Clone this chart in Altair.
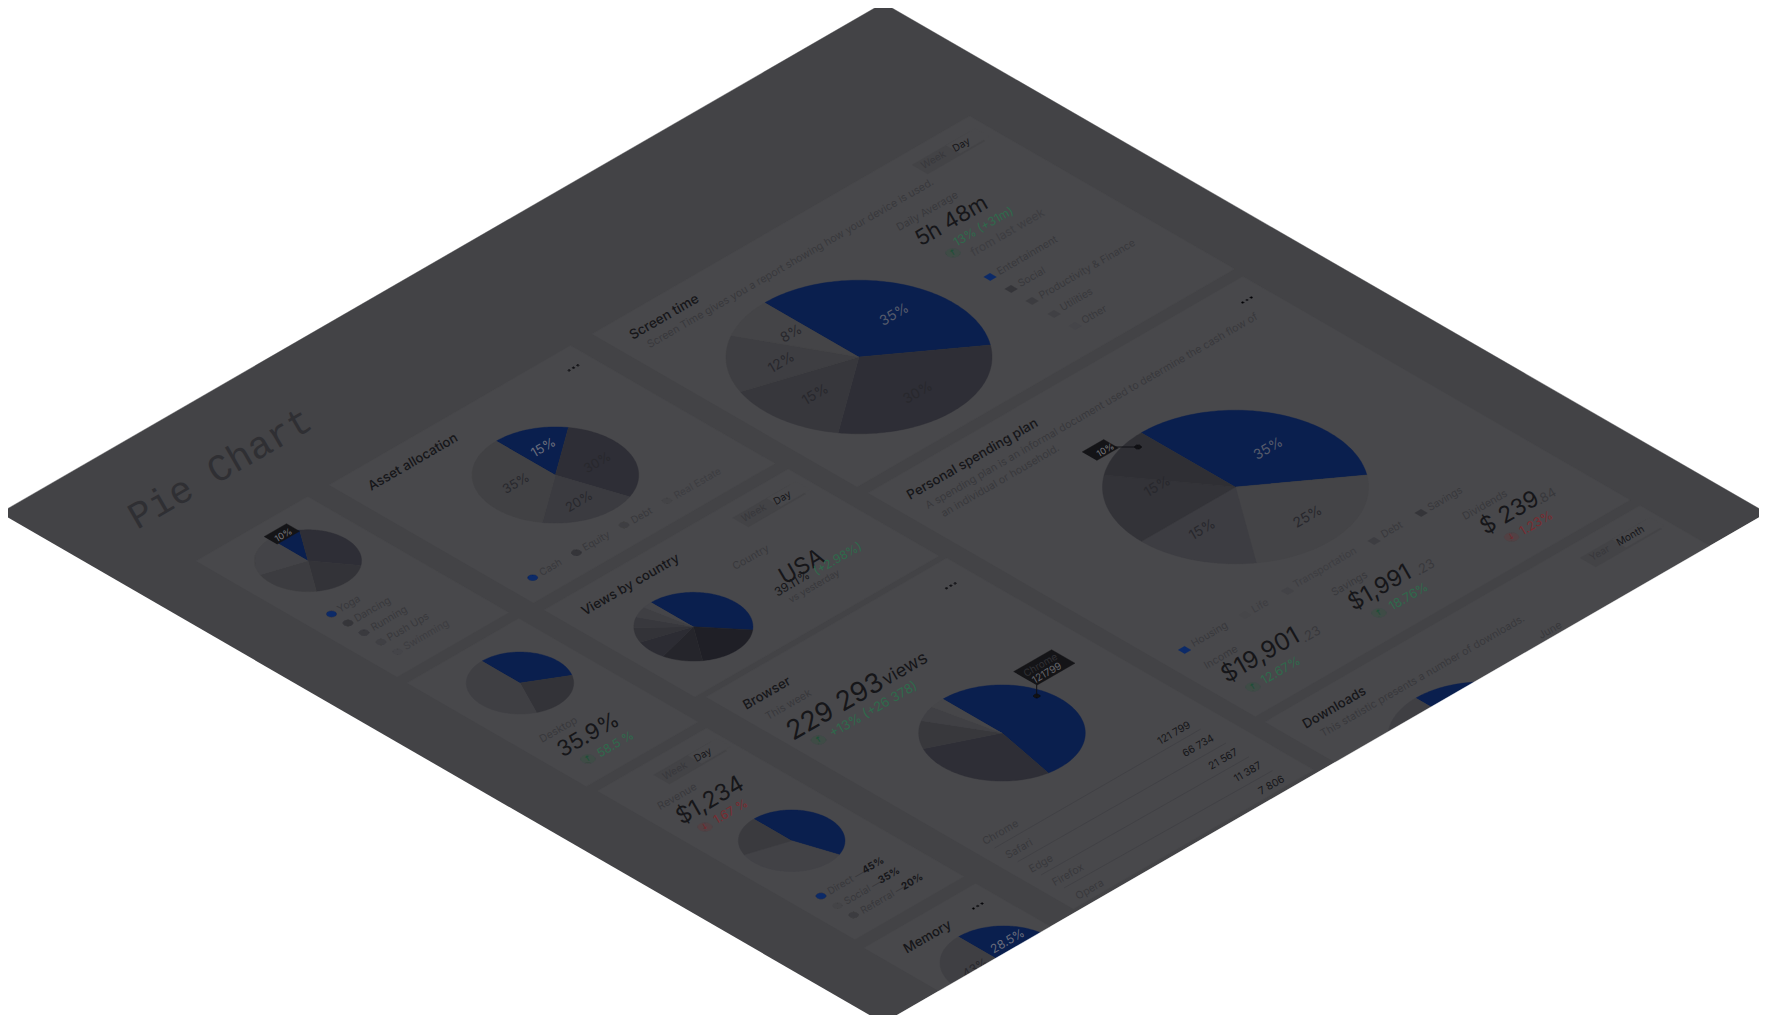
import math
import altair as alt
import pandas as pd

W, H = 1767, 1023
C30, S30 = math.cos(math.radians(30)), 0.5

NAVY = "#0a1f4e"
NAVY2 = "#0c2a68"
PAGE = "#434346"
CARD = "#48484b"
INK = "#161619"
SUB = "#38383c"
FAINT = "#3d3d41"
GREEN = "#2f6a4c"
RED = "#7a2b30"
BADGE_G = "#3f4c46"
BADGE_R = "#524144"
SLICE_TXT = "#28282d"
NAVY_TXT = "#565b6b"

# left corner x, y, width along text, height across text
page_shape = (0, 513, 1020, 1020)
cards = [
    (592, 334, 436, 306), (868, 493, 433, 447), (329, 485, 279, 236),
    (196, 561, 129, 232), (407, 683, 129, 207), (544, 610, 282, 174),
    (706, 697, 278, 424), (597.5, 791, 126, 297), (864, 948, 129, 150),
    (1265, 722, 433, 150),
]
# pale toggle tracks, active segments
toggles = [(912, 165, 66, 18), (732.6, 518, 66, 18), (653.6, 775, 66, 18), (1580, 558, 76, 18)]
toggle_active = [(946, 145.5, 34, 16), (766.6, 498.5, 34, 16), (687.6, 755.5, 34, 16), (1612, 539.5, 44, 16)]

# pies: centre x, y, plane radius, shares, fills
pies = [
    (859, 357, 108.6, [35, 30, 15, 12, 8], [NAVY, "#2e2e36", "#37373c", "#3e3e42", "#444447"]),
    (1235.5, 487, 108.6, [35, 25, 15, 15, 10], [NAVY, "#444447", "#3d3d42", "#333338", "#2f2f34"]),
    (555.4, 475, 68, [15, 30, 20, 35], [NAVY, "#2e2e36", "#3b3b40", "#414144"]),
    (308, 560.7, 43.7, [10, 30, 20, 20, 20], [NAVY, "#2e2e36", "#333338", "#3c3c40", "#434347"]),
    (520, 683, 43.8, [33.5, 24, 42.5], [NAVY, "#333338", "#3f3f43"]),
    (693.4, 626.7, 48.6, [39, 21, 11, 9, 7, 5, 5, 3],
     [NAVY, "#1f1f26", "#25252b", "#2c2c33", "#333338", "#38383d", "#3f3f43", "#454549"]),
    (1002, 733, 68, [53.1, 29.1, 9.4, 5.0, 3.4], [NAVY, "#2e2e36", "#38383c", "#404044", "#464649"]),
    (791.7, 840.7, 43.5, [45, 35, 20], [NAVY, "#424246", "#3a3a3e"]),
    (1003.7, 962.7, 52, [28.5, 28.5, 43], [NAVY, "#333338", "#3f3f43"]),
    (1483.5, 737, 78, [40, 35, 25], [NAVY, "#333338", "#3f3f43"]),
]

# small square markers
squares = [
    (990, 277, NAVY2), (1011, 289, "#353539"), (1032, 301, "#3c3c40"), (1054, 314, "#404044"), (1075, 326, "#454549"),
    (1184.5, 650, NAVY2), (1245, 615, "#464649"), (1287.5, 591, "#434347"), (1374, 541, "#3d3d41"), (1421, 513, "#353539"),
]
# round markers: x, y, radius, fill
dots = [
    (532.7, 577.7, 4, NAVY2), (576.4, 552.7, 4, "#353539"), (624, 525, 4, "#3e3e42"), (667, 500.7, 4, "#444447"),
    (331.5, 614, 4, NAVY2), (348, 623, 4, "#353539"), (364, 632.7, 4, "#3a3a3e"), (381, 642, 4, "#404044"), (397.6, 651.7, 4, "#454549"),
    (821, 896, 4, NAVY2), (837.5, 905.7, 4, "#444447"), (853.6, 915, 4, "#3c3c40"),
    (953, 253, 6, BADGE_G), (1253, 687, 6, BADGE_G), (1379, 613, 6, BADGE_G), (1511.5, 537, 6, BADGE_R),
    (588, 759, 6, BADGE_G), (818.6, 740, 6, BADGE_G), (705, 827, 6, BADGE_R),
    (1138, 447, 2.6, "#111114"), (1036.7, 696, 2.6, "#111114"),
]
menus = [(573.5, 367.7), (1247, 300), (950.8, 585.7), (977.8, 906)]
tips = [(264, 536.7, 26, 15), (1082, 452, 25, 17), (1013.5, 671.7, 44, 27)]

rules = [
    ((1115, 447), (1138, 447)), ((1036.7, 685), (1036.7, 696)),
    ((994.6, 848), (1200.8, 729)), ((1017.8, 861.7), (1226, 743)),
    ((1041, 875), (1249, 756.7)), ((1064, 888), (1272.4, 770.7)),
]

# text, x, y, size, colour, weight
left_text = [
    ("Asset allocation", 368.5, 488, 13.3, INK, 500),
    ("Screen time", 630, 337, 13.6, INK, 500),
    ("Screen Time gives you a report showing how your device is used.", 647.7, 346, 10.6, SUB, 400),
    ("Week", 921.6, 167, 10, SUB, 400), ("Day", 953, 150, 10, INK, 400),
    ("Daily Average", 897, 229, 10.6, SUB, 400),
    ("5h 48m", 916, 242, 22, INK, 400),
    ("13% (+31m)", 954, 244, 12, GREEN, 400),
    ("from last week", 971, 254, 12, FAINT, 400),
    ("Entertainment", 997.4, 273, 10.3, SUB, 400), ("Social", 1018.5, 285, 10.3, SUB, 400),
    ("Productivity & Finance", 1039.5, 297, 10.3, SUB, 400), ("Utilities", 1060.5, 309, 10.3, SUB, 400),
    ("Other", 1082, 322, 10.3, SUB, 400),
    ("Personal spending plan", 907.4, 497, 13.3, INK, 500),
    ("A spending plan is an informal document used to determine the cash flow of", 926, 507, 10.6, SUB, 400),
    ("an individual or household.", 941.6, 515, 10.6, SUB, 400),
    ("Housing", 1191.6, 645, 10.3, SUB, 400), ("Life", 1252, 611, 10.3, FAINT, 400),
    ("Transportation", 1293.7, 586, 10.3, FAINT, 400), ("Debt", 1381.4, 536, 10.3, SUB, 400),
    ("Savings", 1428, 509, 10.3, SUB, 400),
    ("Income", 1204.4, 667, 10.6, SUB, 400), ("$19,901", 1222, 678, 24, INK, 400),
    (".23", 1302, 640, 13, SUB, 400), ("12.67%", 1261.5, 682, 12.5, GREEN, 400),
    ("Savings", 1332, 594, 10.6, SUB, 400), ("$1,991", 1349, 606, 23, INK, 400),
    (".23", 1416, 573, 13, SUB, 400), ("18.76%", 1389.6, 608, 12.5, GREEN, 400),
    ("Dividends", 1463, 518, 10.6, SUB, 400), ("$ 239", 1481, 530, 23, INK, 400),
    (".84", 1537.5, 502, 13, SUB, 400), ("1.23%", 1520, 533, 12.5, RED, 400),
    ("Year", 1590, 559, 10, SUB, 400), ("Month", 1617, 544, 10, INK, 400),
    ("Downloads", 1303, 726, 13.3, INK, 500),
    ("This statistic presents a number of downloads.", 1321, 735, 10.6, SUB, 400),
    ("June", 1539, 637, 10.6, SUB, 400),
    ("Cash", 539.8, 574, 10, SUB, 400), ("Equity", 583, 549, 10, SUB, 400),
    ("Debt", 631.6, 521.7, 10, SUB, 400), ("Real Estate", 674.5, 497, 10, FAINT, 400),
    ("Yoga", 337.8, 610.7, 10.3, SUB, 400), ("Dancing", 354.6, 620, 10.3, SUB, 400),
    ("Running", 371.5, 629, 10.3, SUB, 400), ("Push Ups", 387.5, 639, 10.3, SUB, 400),
    ("Swimming", 404, 648, 10.3, FAINT, 400),
    ("Views by country", 582, 613, 13.3, INK, 500), ("Country", 733, 568, 10.6, SUB, 400),
    ("Week", 742, 520, 10, SUB, 400), ("Day", 774, 503, 10, INK, 400),
    ("USA", 780, 580, 23, INK, 400), ("39.11%", 775, 594, 12, INK, 400),
    ("(+2.98%)", 814, 573, 12, GREEN, 400), ("vs yesterday", 789, 601, 9.5, SUB, 400),
    ("Desktop", 540, 740.7, 10.6, SUB, 400), ("35.9%", 558, 753, 22, INK, 400),
    ("58.5 %", 597.5, 755, 12, GREEN, 400),
    ("Browser", 743.6, 707, 13.3, INK, 500), ("This week", 766, 718, 10.6, SUB, 400),
    ("229 293", 787.5, 735, 27, INK, 400), ("views", 883, 681.7, 18, INK, 400),
    ("+13% (+26 378)", 830, 735, 13, GREEN, 400),
    ("Week", 663, 778, 10, SUB, 400), ("Day", 694.6, 760, 10, INK, 400),
    ("Revenue", 658, 808, 10.6, SUB, 400), ("$1,234", 677, 820, 23, INK, 400),
    ("1.67 %", 714, 821.7, 12, RED, 400),
    ("Direct —", 828, 892.7, 10, SUB, 400), ("45%", 862.5, 871.7, 10, INK, 700),
    ("Social —", 844.6, 902.7, 10, SUB, 400), ("35%", 878.6, 881.7, 10, INK, 700),
    ("Referral —", 861, 912, 10, SUB, 400), ("20%", 901.8, 888, 10, INK, 700),
    ("Chrome", 982.8, 843, 10.6, SUB, 400), ("Safari", 1006, 856.7, 10.6, SUB, 400),
    ("Edge", 1029.5, 870.7, 10.6, SUB, 400), ("Firefox", 1052.7, 884, 10.6, SUB, 400),
    ("Opera", 1076, 897.7, 10.6, SUB, 400),
    ("121 799", 1158, 742.7, 10.3, INK, 400), ("66 734", 1183, 755, 10.3, INK, 400),
    ("21 567", 1209, 767.7, 10.3, INK, 400), ("11 387", 1234.5, 780, 10.3, INK, 400),
    ("7 806", 1259, 792.7, 10.3, INK, 400),
    ("Chrome", 1024, 675, 10, "#303034", 400), ("121799", 1032.5, 681.7, 10, "#66666b", 400),
    ("Memory", 904, 950.7, 13.3, INK, 500),
]
center_text = [
    ("35%", 893, 314, 14, NAVY_TXT), ("30%", 916.6, 392, 14, SLICE_TXT), ("15%", 814, 394, 14, SLICE_TXT),
    ("12%", 780, 362, 14, SLICE_TXT), ("8%", 790, 333, 14, SLICE_TXT),
    ("35%", 1267, 448, 14, NAVY_TXT), ("25%", 1306.4, 516, 14, SLICE_TXT), ("15%", 1201, 529, 14, SLICE_TXT),
    ("15%", 1156, 486, 14, SLICE_TXT),
    ("15%", 542, 446.7, 13, "#6a6e7c"), ("30%", 596, 461.7, 13, SLICE_TXT), ("20%", 577.7, 500.7, 13, SLICE_TXT),
    ("35%", 514.6, 482.7, 13, SLICE_TXT),
    ("10%", 1104, 449, 9, "#77777c"), ("10%", 282, 534, 9, "#77777c"),
    ("28.5%", 1006, 940, 12, "#6a6e7c"), ("43%", 973.6, 967, 12, SLICE_TXT),
]
mono_text = [("Pie Chart", 137, 530, 38, "#2f2f33")]

rows = []
seq = [0]


def add(name, pts, col):
    for px, py in pts:
        rows.append({"id": name, "seq": seq[0], "x": px, "y": py, "col": col})
        seq[0] += 1


def plane(cx, cy, u, v):
    return cx + C30 * (u + v), cy + S30 * (v - u)


def para(name, lx, ly, w, h, col):
    add(name, [plane(lx, ly, 0, 0), plane(lx, ly, w, 0), plane(lx, ly, w, h), plane(lx, ly, 0, h)], col)


def wedge(name, cx, cy, r, a0, a1, col):
    steps = max(3, int((a1 - a0) / 1.5))
    pts = [(cx, cy)] if a1 - a0 < 359.9 else []
    for i in range(steps + 1):
        a = math.radians(a0 + (a1 - a0) * i / steps)
        pts.append(plane(cx, cy, r * math.sin(a), -r * math.cos(a)))
    add(name, pts, col)


para("page", *page_shape, PAGE)
for i, c in enumerate(cards):
    para(f"card{i}", *c, CARD)
for i, c in enumerate(toggles):
    para(f"tog{i}", *c, PAGE)
for i, c in enumerate(toggle_active):
    para(f"act{i}", *c, CARD)
for i, (cx, cy, r, vals, cols) in enumerate(pies):
    a = 0.0
    for j, (v, col) in enumerate(zip(vals, cols)):
        wedge(f"pie{i}_{j}", cx, cy, r, a, a + v * 3.6, col)
        a += v * 3.6
for i, (x, y, col) in enumerate(squares):
    para(f"sq{i}", x - 6.3, y, 7.3, 7.3, col)
for i, (x, y, r, col) in enumerate(dots):
    wedge(f"dot{i}", x, y, r, 0, 360, col)
for i, (x, y) in enumerate(menus):
    for k in (-5, 0, 5):
        px, py = plane(x, y, k, 0)
        wedge(f"menu{i}_{k}", px, py, 1.0, 0, 360, "#28282c")
for i, t in enumerate(tips):
    para(f"tip{i}", *t, "#141417")

poly_df = pd.DataFrame(rows)
cover_df = pd.DataFrame({"id": "cover", "seq": [0, 1, 2], "x": [883.5, 1767, 1767], "y": [1023, 513, 1023], "col": "#ffffff"})
rule_df = pd.DataFrame([{"id": i, "seq": k, "x": p[0], "y": p[1]} for i, r in enumerate(rules) for k, p in enumerate(r)])
rule_col = ["#111114", "#111114", "#414145", "#414145", "#414145", "#414145"]
rule_df["col"] = [rule_col[i] for i in rule_df["id"]]

PW, PH = 1751, 1007
xs = alt.Scale(domain=[8, 8 + PW], range=[0, PW])
ys = alt.Scale(domain=[8, 8 + PH], range=[0, PH])
X = alt.X("x:Q", scale=xs, axis=None)
Y = alt.Y("y:Q", scale=ys, axis=None)


def polys(df):
    return alt.Chart(df).mark_line(strokeWidth=0.4, clip=False).encode(
        x=X, y=Y, order="seq:Q", detail="id:N",
        fill=alt.Fill("col:N", scale=None),
        stroke=alt.Stroke("col:N", scale=None),
    )


rule_layer = alt.Chart(rule_df).mark_line(strokeWidth=1).encode(
    x=X, y=Y, order="seq:Q", detail="id:N", stroke=alt.Stroke("col:N", scale=None))


def text_layer(items, kx=0.0, ky=0.0, kx0=0.0, ky0=0.0, **mark):
    df = pd.DataFrame(items, columns=["t", "x", "y", "s", "c"])
    # rotated glyphs sit off the sheared baseline by an amount that grows with size
    df["x"] = df["x"] + kx * df["s"] + kx0
    df["y"] = df["y"] + ky * df["s"] + ky0
    return alt.Chart(df).mark_text(angle=330, **mark).encode(
        x=X, y=Y, text="t:N", size=alt.Size("s:Q", scale=None),
        color=alt.Color("c:N", scale=None))


layers = [polys(poly_df), rule_layer]
for w in (400, 500, 700):
    sub = [r[:5] for r in left_text if r[5] == w]
    layers.append(text_layer(sub, kx=0.2, ky=0.22, align="left", baseline="alphabetic", font="Inter", fontWeight=w))
layers.append(text_layer(center_text, kx0=1.5, ky0=1, align="center", baseline="middle", font="Inter"))
layers.append(text_layer(mono_text, align="left", baseline="alphabetic", font="Liberation Mono"))
arrows = [("↑", 953, 253, 8, "#1f4f38"), ("↑", 1253, 687, 8, "#1f4f38"), ("↑", 1379, 613, 8, "#1f4f38"),
          ("↓", 1511.5, 537, 8, "#6e2b30"), ("↑", 588, 759, 8, "#1f4f38"), ("↑", 818.6, 740, 8, "#1f4f38"),
          ("↓", 705, 827, 8, "#6e2b30")]
layers.append(text_layer(arrows, align="center", baseline="middle", font="DejaVu Sans", fontWeight=700))
layers.append(polys(cover_df))

chart = alt.layer(*layers).properties(
    width=PW, height=PH, padding=0, background="#ffffff",
    autosize=alt.AutoSizeParams(type="none"),
).configure_view(stroke=None)

chart.save("out.html", embed_options={"renderer": "svg", "actions": False})
